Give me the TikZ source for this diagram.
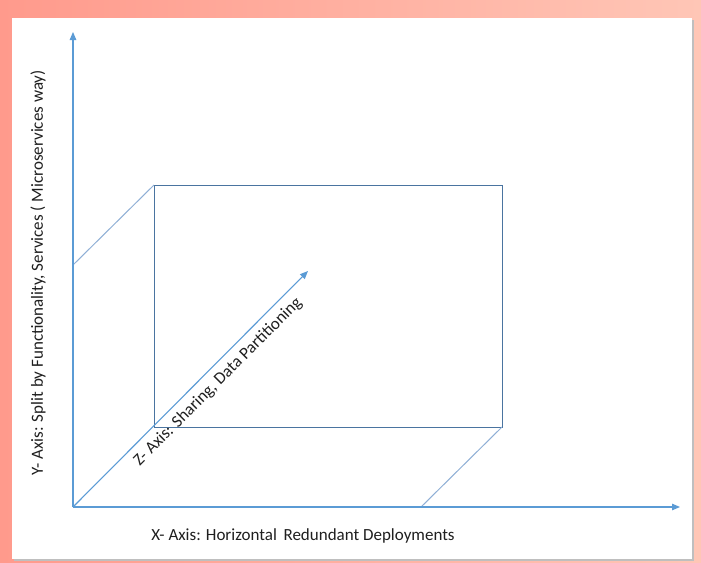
\documentclass[tikz,border=0pt]{standalone}
\usepackage{fontspec}
\setmainfont{Carlito}
\usetikzlibrary{arrows.meta}
\definecolor{axisblue}{HTML}{5B9BD5}
\definecolor{boxblue}{HTML}{4A74A0}
\definecolor{diagblue}{HTML}{8FAFD6}
\definecolor{txt}{HTML}{1F1F1F}
\definecolor{bgL}{HTML}{FF9A8C}
\definecolor{bgR}{HTML}{FFC6B6}
\tikzset{
  axis/.style={draw=axisblue, line width=1.1pt, -{Triangle[length=8pt,width=6.5pt]}},
  boxline/.style={draw=boxblue, line width=0.9pt},
  diag/.style={draw=diagblue, line width=1pt},
  lbl/.style={text=txt, font=\fontsize{17}{19}\selectfont, inner sep=0pt}
}
\begin{document}
\begin{tikzpicture}[x=1pt,y=-1pt]
\useasboundingbox (0,0) rectangle (701,562);
\shade[left color=bgL, right color=bgR] (0,0) rectangle (701,562);
\fill[black!25] (14,20) rectangle (694,561);
\fill[white] (12,18) rectangle (692,559);
% points
\coordinate (O) at (73,507);
\coordinate (Ytop) at (73,32);
\coordinate (Xend) at (680,507);
\coordinate (YL) at (73,265);
\coordinate (XR) at (421,507);
\coordinate (A) at (154,185);
\coordinate (B) at (502,185);
\coordinate (C) at (502,427);
\coordinate (D) at (154,427);
\coordinate (Zend) at (308,271);
% back rectangle
\draw[boxline] (A) -- (B) -- (C) -- (D) -- cycle;
% diagonals
\draw[diag] (YL) -- (A);
\draw[diag] (XR) -- (C);
% axes
\draw[axis] (O) -- (Ytop);
\draw[axis] (O) -- (Xend);
\draw[axis] (O) -- (Zend);
% labels
\node[lbl] (xl) at (303,536) {X- Axis: Horizontal\ \,Redundant Deployments};
\node[lbl, rotate=90] (yl) at (38,273) {Y- Axis: Split by Functionality, Services ( Microservices way)};
\node[lbl, rotate=45] (zl) at (218,382) {Z- Axis: Sharing, Data Partitioning};
\end{tikzpicture}
\end{document}
